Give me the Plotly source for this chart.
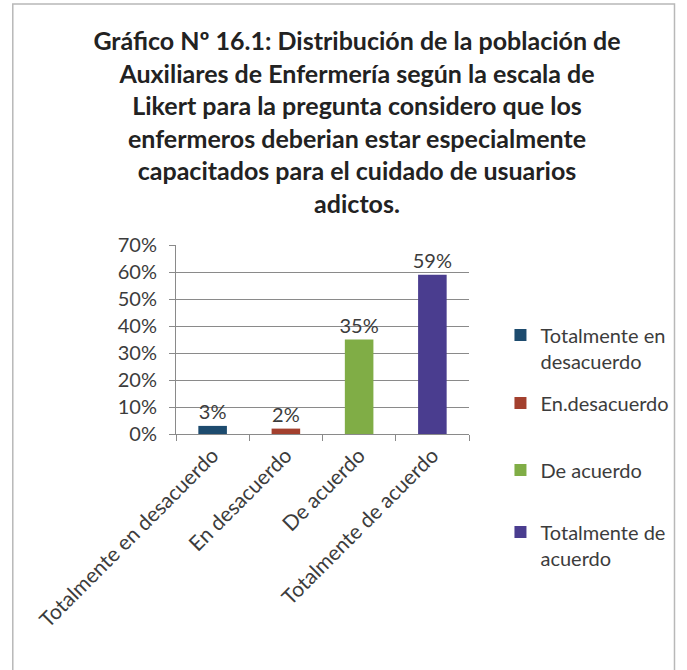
import plotly.graph_objects as go

categories = ["Totalmente en desacuerdo", "En desacuerdo", "De acuerdo", "Totalmente de acuerdo"]
legend_names = ["Totalmente en<br>desacuerdo", "En.desacuerdo", "De acuerdo", "Totalmente de<br>acuerdo"]
values = [0.03, 0.02, 0.35, 0.59]
value_labels = ["3%", "2%", "35%", "59%"]
y_ticks = [0, 0.1, 0.2, 0.3, 0.4, 0.5, 0.6, 0.7]
y_tick_labels = ["0%", "10%", "20%", "30%", "40%", "50%", "60%", "70%"]
title_text = ("Gráfico Nº 16.1: Distribución de la población de<br>"
              "Auxiliares de Enfermería según la escala de<br>"
              "Likert para la pregunta considero que los<br>"
              "enfermeros deberian estar especialmente<br>"
              "capacitados para el cuidado de usuarios<br>"
              "adictos.")

colors = ["#1d4b6e", "#a3402e", "#80ad46", "#4a3d8f"]
FONT = "Lato, 'Noto Sans', sans-serif"
TXT = "#3c3c3c"

W, H = 687, 670
ML, MR, MT, MB = 176, 213, 245, 236
PW, PH = W - ML - MR, H - MT - MB

def px_x(x):
    return (x - ML) / PW

def px_y(y):
    return (H - MB - y) / PH

legend_centers = [348, 403, 470, 545]

fig = go.Figure()
for i, (cat, nm, v, lab, c) in enumerate(zip(categories, legend_names, values, value_labels, colors)):
    lg = "legend" if i == 0 else f"legend{i+1}"
    fig.add_trace(go.Bar(
        x=[cat], y=[v], name=nm, marker=dict(color=c, line=dict(width=0)),
        text=[lab], textposition="outside", cliponaxis=False, constraintext="none",
        textfont=dict(family=FONT, size=20, color=TXT),
        legend=lg, showlegend=True,
    ))

legend_common = dict(
    x=px_x(506), xanchor="left", yanchor="middle",
    font=dict(family=FONT, size=20, color=TXT),
    bgcolor="rgba(0,0,0,0)", valign="top", itemwidth=30,
)
layout_legends = {}
for i, yc in enumerate(legend_centers):
    key = "legend" if i == 0 else f"legend{i+1}"
    layout_legends[key] = dict(legend_common, y=px_y(yc))

fig.update_layout(
    width=W, height=H,
    margin=dict(l=ML, r=MR, t=MT, b=MB),
    paper_bgcolor="white", plot_bgcolor="white",
    barmode="overlay", bargap=0.61,
    title=dict(text=title_text, x=357 / W, xanchor="center", y=1 - 50 / H, yanchor="top",
               font=dict(family=FONT, size=25, color="#222222", weight="bold")),
    xaxis=dict(
        categoryorder="array", categoryarray=categories,
        tickangle=-45, tickfont=dict(family=FONT, size=21, color=TXT),
        showline=True, linecolor="#8a8a8a", linewidth=1,
        ticks="outside", tickson="boundaries", ticklen=6, tickcolor="#8a8a8a",
        showgrid=False,
    ),
    yaxis=dict(
        range=[0, 0.7], tickvals=y_ticks, ticktext=y_tick_labels,
        tickfont=dict(family=FONT, size=20, color=TXT),
        showline=True, linecolor="#8a8a8a", linewidth=1,
        ticks="outside", ticklen=6, tickcolor="#8a8a8a",
        showgrid=True, gridcolor="#8a8a8a", gridwidth=1,
        zeroline=False, ticklabelstandoff=8,
    ),
    **layout_legends,
)

fig.add_shape(type="rect", xref="paper", yref="paper",
              x0=px_x(10), x1=px_x(683), y0=px_y(690), y1=px_y(4),
              line=dict(color="#b8b8b8", width=1.5), fillcolor="rgba(0,0,0,0)", layer="below")

fig.write_html("out.html")
